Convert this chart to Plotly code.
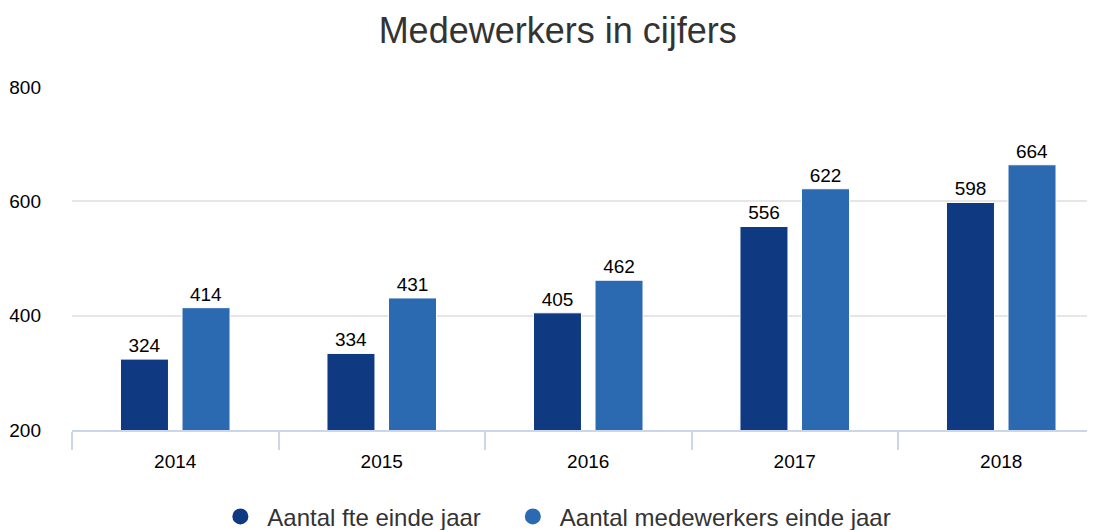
import plotly.graph_objects as go

years = ["2014", "2015", "2016", "2017", "2018"]
fte = [324, 334, 405, 556, 598]
medewerkers = [414, 431, 462, 622, 664]
series_names = ["Aantal fte einde jaar", "Aantal medewerkers einde jaar"]
colors = ["#0f3a82", "#2b69b1"]

fig = go.Figure()
for name, vals, col in zip(series_names, [fte, medewerkers], colors):
    fig.add_trace(go.Bar(
        x=years, y=vals, name=name, showlegend=False,
        marker=dict(color=col, line=dict(color="white", width=1)),
        text=[str(v) for v in vals], textposition="outside",
        textfont=dict(size=19, color="#000000", family="Liberation Sans, Arial"),
        cliponaxis=False,
    ))
for i, (name, col) in enumerate(zip(series_names, colors)):
    label = name + ("\u00a0" * 3 if i == 0 else "")
    fig.add_trace(go.Scatter(
        x=[None], y=[None], mode="markers", name=label,
        marker=dict(symbol="circle", size=22, color=col),
    ))

fig.update_layout(
    width=1095, height=530,
    margin=dict(l=64, r=8, t=79, b=108),
    paper_bgcolor="white", plot_bgcolor="white",
    font=dict(family="Liberation Sans, Arial", color="#333333"),
    title=dict(text="Medewerkers in cijfers", x=0.502, xanchor="center", y=0.958, yanchor="middle",
               font=dict(size=36, color="#333333")),
    barmode="group", bargap=0.404, bargroupgap=0.22,
    legend=dict(orientation="h", x=0.472, xanchor="center", yref="container", y=0.04, yanchor="middle",
                font=dict(size=24, color="#333333"), itemsizing="trace", itemwidth=44),
    xaxis=dict(type="category", range=[-0.5, 4.454], showline=True, linecolor="#ccd6eb", linewidth=1.5,
               ticks="outside", tickson="boundaries", ticklen=18, tickcolor="#ccd6eb", tickwidth=1.5,
               tickfont=dict(size=19, color="#000000"), showgrid=False, fixedrange=True,
               ticklabelstandoff=13, automargin=False),
    yaxis=dict(range=[200, 800], tickvals=[200, 400, 600, 800], showgrid=True, gridcolor="#e6e6e6",
               gridwidth=1.5, zeroline=False, showline=False, ticklabelstandoff=30,
               tickfont=dict(size=19, color="#000000"), automargin=False),
)

fig.write_html("out.html")
